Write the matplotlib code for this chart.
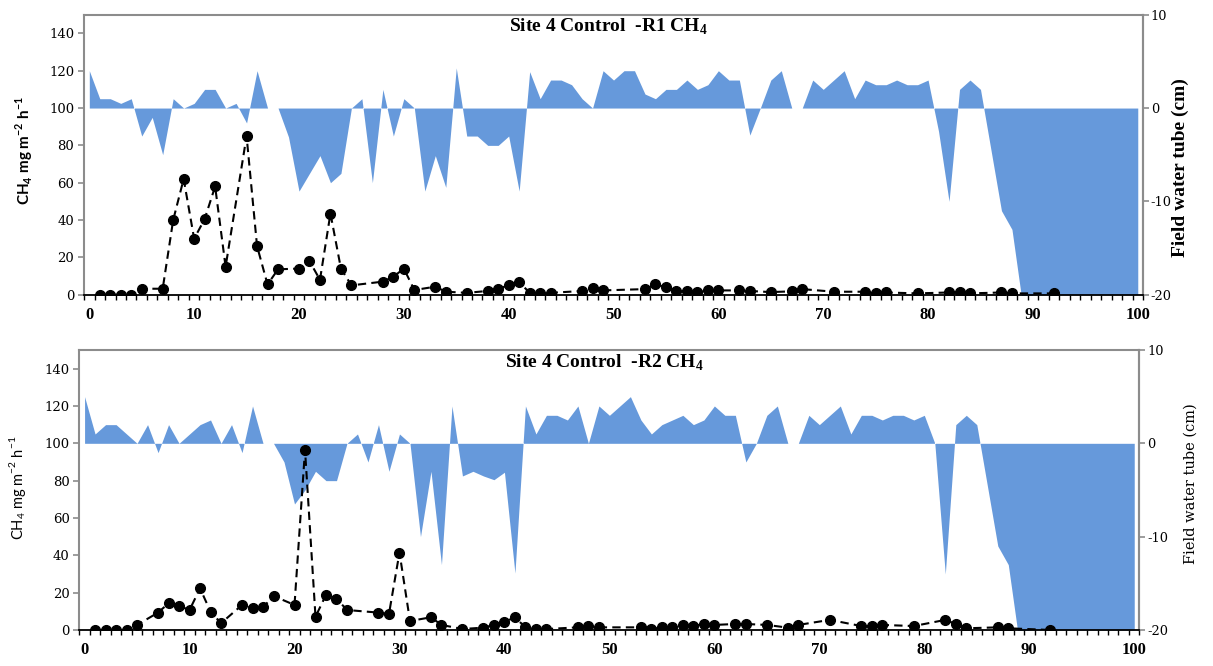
import numpy as np
import matplotlib
matplotlib.use('Agg')
import matplotlib.pyplot as plt

plt.rcParams['axes.unicode_minus'] = False

# --- 数据 ---
# 采样日 (两个重复 R1 / R2 相同)
SAMPLE_DAYS = [1, 2, 3, 4, 5, 7, 8, 9, 10, 11, 12, 13, 15, 16, 17, 18, 20, 21, 22, 23,
               24, 25, 28, 29, 30, 31, 33, 34, 36, 38, 39, 40, 41, 42, 43, 44, 47, 48, 49, 53,
               54, 55, 56, 57, 58, 59, 60, 62, 63, 65, 67, 68, 71, 74, 75, 76, 79, 82, 83, 84,
               87, 88, 92]

CH4_R1 = [0, 0, 0, 0, 3.2, 3.2, 40, 62, 30, 40.5, 58, 15, 85, 26, 5.5, 13.6, 14, 18, 8, 43.5,
          14, 5, 7, 9.6, 14, 2.5, 4.3, 1.6, 1, 2, 3, 5.2, 6.8, 1, 1, 1, 2, 3.6, 2.3, 3,
          5.5, 4, 2, 2, 1.2, 2.3, 2.3, 2.3, 2, 1.4, 1.8, 3, 1.6, 1.6, 0.7, 1.2, 0.7, 1.2, 1.2, 0.7,
          1.2, 0.7, 0.7]

CH4_R2 = [0, 0, 0, 0, 2.7, 9.3, 14.3, 12.9, 10.7, 22.3, 9.8, 3.6, 13.4, 11.6, 12.1, 18.2, 13.4, 96.5, 7.1, 18.8,
          16.8, 10.7, 9.3, 8.6, 41.5, 4.8, 6.8, 2.7, 0.5, 1.25, 2.7, 4.3, 6.8, 1.4, 0.5, 0.5, 1.4, 2.1, 1.4, 1.4,
          0.5, 1.4, 1.4, 2.7, 2.1, 3.2, 2.7, 3.2, 3.2, 2.7, 1.25, 2.7, 5.4, 2.1, 2.1, 2.7, 2.1, 5.4, 3.2, 0.9,
          1.4, 0.9, 0]

# 水位 (Field water tube, cm), 第 0-100 天
WATER_DAYS = list(range(101))
WATER_R1 = [4, 1, 1, 0.5, 1, -3, -1, -5, 1, 0,
            0.5, 2, 2, 0, 0.5, -1.6, 4, 0, 0, -3.1,
            -8.9, -7, -5.1, -8, -7, 0, 1, -8, 2, -3,
            1, 0, -8.9, -5.1, -8.5, 4.3, -3, -3, -4, -4,
            -3, -8.9, 3.9, 1, 3, 3, 2.5, 1, 0, 4,
            3, 4, 4, 1.5, 1, 2, 2, 3, 2, 2.5,
            4, 3, 3, -2.9, 0, 3, 4, 0, 0, 3,
            2, 3, 4, 1, 3, 2.5, 2.5, 3, 2.5, 2.5,
            3, -2.5, -10, 2, 3, 2, -4.5, -11, -13, -21,
            -20, -20, -20, -20, -20, -20, -20, -20, -20, -20, -20]
WATER_R2 = [5, 1, 2, 2, 1, 0, 2, -1, 2, 0,
            1, 2, 2.5, 0, 2, -1, 4, 0, 0, -2,
            -6.5, -5, -3, -4, -4, 0, 1, -2, 2, -3,
            1, 0, -10, -3, -13, 4, -3.5, -3, -3.5, -3.9,
            -3.1, -13.9, 4, 1, 3, 3, 2.5, 4, 0, 4,
            3, 4, 5, 2.5, 1, 2, 2.5, 3, 2, 2.5,
            4, 3, 3, -2, 0, 3, 4, 0, 0, 3,
            2, 3, 4, 1, 3, 3, 2.5, 3, 3, 2.5,
            3, 0, -14, 2, 3, 2, -4.5, -11, -13, -21,
            -20, -20, -20, -20, -20, -20, -20, -20, -20, -20, -20]

FILL = '#6699db'
GRAY = '#8c8c8c'

fig = plt.figure(figsize=(12.13, 6.66), dpi=100)


def draw_panel(rect, ch4, water, title):
    ax = fig.add_axes(rect)
    ax2 = ax.twinx()

    # 水位面积图
    ax2.fill_between(WATER_DAYS, water, 0, color=FILL, lw=0)
    ax2.set_ylim(-20, 10)
    ax2.set_yticks([-20, -10, 0, 10])
    ax2.tick_params(axis='y', direction='out', length=4, width=1.2, color=GRAY,
                    labelsize=9.3, pad=1.5)
    for lab in ax2.get_yticklabels():
        lab.set_fontfamily('DejaVu Serif')
    for s in ['left', 'top', 'bottom']:
        ax2.spines[s].set_visible(False)
    ax2.spines['right'].set_color(GRAY)
    ax2.spines['right'].set_linewidth(1.5)

    # CH4 通量
    ax.set_zorder(ax2.get_zorder() + 1)
    ax.patch.set_visible(False)
    ax.plot(SAMPLE_DAYS, ch4, color='black', lw=1.5, ls=(0, (4, 2.5)),
            marker='o', ms=7, mfc='black', mec='black')
    ax.set_ylim(0, 150)
    ax.set_yticks(range(0, 141, 20))
    ax.set_xlim(-0.5, 100.5)
    ax.set_xticks(range(0, 101, 10))
    ax.set_xticks(np.arange(-0.5, 101, 1), minor=True)
    ax.tick_params(axis='x', which='major', length=0, pad=9, labelsize=12)
    ax.tick_params(axis='x', which='minor', length=3.5, width=1, direction='out', color='black')
    ax.tick_params(axis='y', direction='out', length=4, width=1.2, color=GRAY,
                   labelsize=9.5, pad=3)
    for lab in ax.get_xticklabels():
        lab.set_fontfamily('Liberation Serif')
        lab.set_fontweight('bold')
    for lab in ax.get_yticklabels():
        lab.set_fontfamily('DejaVu Serif')
    for s in ['left', 'top', 'right']:
        ax.spines[s].set_color(GRAY)
        ax.spines[s].set_linewidth(1.5)
    ax.spines['bottom'].set_color('black')
    ax.spines['bottom'].set_linewidth(1.3)

    ax.text(0.495, 0.955, title, transform=ax.transAxes, ha='center', va='center',
            fontsize=14, fontweight='bold', family='Liberation Serif')
    return ax, ax2


draw_panel([0.0693, 0.5575, 0.873, 0.4204], CH4_R1, WATER_R1,
           r'Site 4 Control  -R1 CH$_{\mathregular{4}}$')
draw_panel([0.0654, 0.0541, 0.874, 0.4204], CH4_R2, WATER_R2,
           r'Site 4 Control  -R2 CH$_{\mathregular{4}}$')

ylab = r'CH$_{\mathregular{4}}$ mg m$^{\mathregular{-2}}$ h$^{\mathregular{-1}}$'
fig.text(24 / 1213, 1 - 151 / 666, ylab, rotation=90, ha='center', va='center',
         fontsize=11, fontweight='bold', family='Lato')
fig.text(18 / 1213, 1 - 488 / 666, ylab, rotation=90, ha='center', va='center',
         fontsize=10.5, family='Lato')
fig.text(1180 / 1213, 1 - 168 / 666, 'Field water tube (cm)', rotation=90, ha='center',
         va='center', fontsize=14, fontweight='bold', family='Liberation Serif')
fig.text(1191 / 1213, 1 - 484 / 666, 'Field water tube (cm)', rotation=90, ha='center',
         va='center', fontsize=10.5, family='DejaVu Serif')

fig.savefig('out.png', dpi=100)
